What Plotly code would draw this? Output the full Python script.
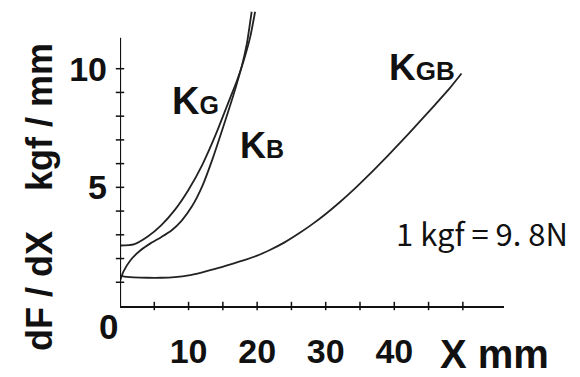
import plotly.graph_objects as go

# Spring rate dF/dX (kgf/mm) against deflection X (mm)
kg_x = [0, 2, 4, 6, 8, 10, 12, 14, 16, 17, 18, 19, 19.7]
kg_y = [2.55, 2.6, 2.92, 3.4, 4.05, 4.9, 5.95, 7.25, 8.72, 9.45, 10.3, 11.35, 12.4]

kb_x = [0, 0.5, 1.5, 3, 4.5, 6, 7.5, 9, 10.5, 12, 13.5, 15, 16.5, 17.8, 18.5, 19.2]
kb_y = [1.05, 1.45, 1.92, 2.35, 2.65, 2.9, 3.18, 3.6, 4.2, 5.05, 6.2, 7.5, 8.85,
        10.15, 11.05, 12.4]

kgb_x = [0, 1, 2, 4, 6, 8, 10, 12, 14, 16, 18, 20, 22, 24, 26, 28, 30,
         32, 34, 36, 38, 40, 42, 44, 46, 48, 49.8]
kgb_y = [1.27, 1.23, 1.21, 1.19, 1.19, 1.22, 1.29, 1.42, 1.57, 1.74, 1.92, 2.12,
         2.38, 2.68, 3.04, 3.44, 3.88, 4.36, 4.88, 5.44, 6.02, 6.62, 7.23, 7.86,
         8.5, 9.15, 9.8]

x_ticks = [5, 10, 15, 20, 25, 30, 35, 40, 45, 50]
x_tick_text = ["", "10", "", "20", "", "30", "", "40", "", ""]
y_ticks = [1, 2, 3, 4, 5, 6, 7, 8, 9, 10]
y_tick_text = ["", "", "", "", "5", "", "", "", "", "10"]

X_MAX = 56
Y_MAX = 12.6
Y_AXIS_TOP = 11.3

BOLD = "Liberation Sans, Arial, sans-serif"
PLAIN = "Noto Sans CJK JP, Noto Sans, sans-serif"
INK = "#111111"
CURVE = "#222222"

fig = go.Figure()

for xs, ys in [(kg_x, kg_y), (kb_x, kb_y), (kgb_x, kgb_y)]:
    fig.add_trace(go.Scatter(
        x=xs, y=ys, mode="lines",
        line=dict(color=CURVE, width=1.8, shape="spline", smoothing=0.6),
        hoverinfo="skip", showlegend=False,
    ))

# small tick marks crossing the axis lines
fig.add_trace(go.Scatter(
    x=x_ticks, y=[0] * len(x_ticks), mode="markers", cliponaxis=False,
    marker=dict(symbol="line-ns", size=6, line=dict(color=INK, width=1.5)),
    hoverinfo="skip", showlegend=False,
))
fig.add_trace(go.Scatter(
    x=[0] * len(y_ticks), y=y_ticks, mode="markers", cliponaxis=False,
    marker=dict(symbol="line-ew", size=6, line=dict(color=INK, width=1.5)),
    hoverinfo="skip", showlegend=False,
))

# vertical axis line stops below the top of the plotting area
fig.add_shape(type="line", xref="x", yref="y", x0=0, x1=0, y0=0, y1=Y_AXIS_TOP,
              line=dict(color=INK, width=2.2))

bold = lambda s: dict(family=BOLD, size=s, color=INK, weight="bold")

annotations = [
    dict(x=0, y=0, text="0", xshift=-12, yshift=-20, font=bold(35),
         xanchor="center", yanchor="middle"),
    dict(x=46.4, y=0, text="X mm", yshift=-48, font=bold(40),
         xanchor="left", yanchor="middle"),
    dict(x=7.3, y=7.67, text="K<span style='font-size:25px'>G</span>", font=bold(38),
         xanchor="left", yanchor="bottom"),
    dict(x=17.2, y=5.8, text="K<span style='font-size:25px'>B</span>", font=bold(36),
         xanchor="left", yanchor="bottom"),
    dict(x=39.0, y=9.09, text="K<span style='font-size:26px'>GB</span>", font=bold(37),
         xanchor="left", yanchor="bottom"),
    dict(x=52.8, y=3.09, text="1 kgf = 9. 8N",
         font=dict(family=PLAIN, size=31, color=INK),
         xanchor="center", yanchor="middle"),
]
for a in annotations:
    a.update(xref="x", yref="y", showarrow=False)

annotations.append(dict(
    xref="paper", yref="paper", x=-0.208, y=0.365, showarrow=False, textangle=-90,
    text="dF\u00a0/\u00a0dX\u00a0\u00a0\u00a0\u00a0kgf\u00a0/\u00a0mm",
    font=bold(36),
    xanchor="center", yanchor="middle",
))

fig.update_layout(
    width=580, height=377,
    margin=dict(l=120, r=76, t=7, b=60),
    paper_bgcolor="white", plot_bgcolor="white",
    annotations=annotations,
    xaxis=dict(range=[0, X_MAX], showgrid=False, zeroline=False,
               showline=True, linecolor=INK, linewidth=2.2,
               tickmode="array", tickvals=x_ticks, ticktext=x_tick_text,
               ticks="", ticklabelstandoff=14, tickfont=bold(34)),
    yaxis=dict(range=[0, Y_MAX], showgrid=False, zeroline=False,
               showline=False,
               tickmode="array", tickvals=y_ticks, ticktext=y_tick_text,
               ticks="", ticklabelstandoff=12, tickfont=bold(34)),
)

fig.write_html("out.html")
